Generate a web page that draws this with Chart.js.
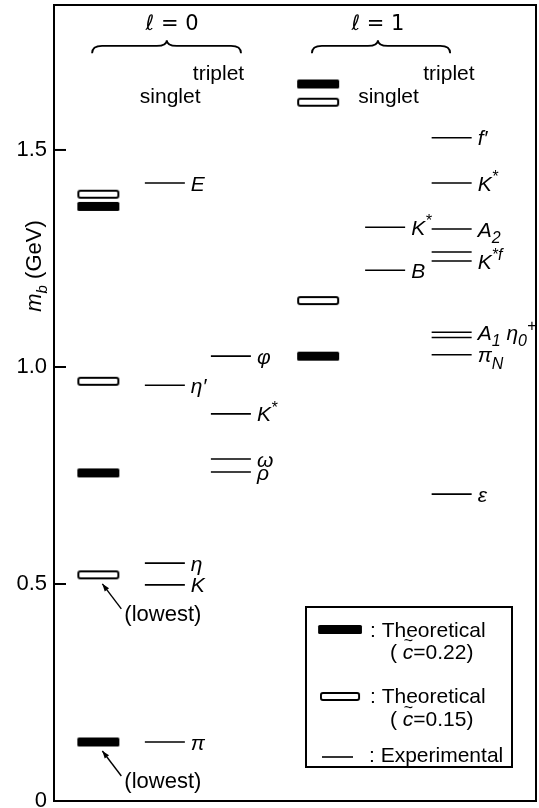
<!DOCTYPE html>
<html>
<head>
<meta charset="utf-8">
<script src="https://cdn.jsdelivr.net/npm/chart.js@4.4.1/dist/chart.umd.min.js"></script>
<style>
  html, body { margin: 0; padding: 0; background: #fff; }
  canvas { display: block; }
</style>
</head>
<body>
<canvas id="chart" width="539" height="808"></canvas>
<script>
// meson masses in GeV
const l0TheoryC022 = [0.136, 0.756, 1.370];
const l0TheoryC015 = [0.521, 0.967, 1.398];
const l1TheoryC022 = [1.025, 1.652];
const l1TheoryC015 = [1.153, 1.610];

const l0ExpNearNames = ['π', 'K', 'η', 'η′', 'E'];
const l0ExpNear = [0.136, 0.498, 0.548, 0.958, 1.424];
const l0ExpFarNames = ['ρ', 'ω', 'K^*', 'φ'];
const l0ExpFar = [0.758, 0.788, 0.892, 1.025];
const l1ExpNearNames = ['B', 'K^*'];
const l1ExpNear = [1.223, 1.322];
const l1ExpFarNames = ['ε', 'π_N', '', 'A_1 η_0^+', 'K^{*f}', '', 'A_2', 'K^*', 'f′'];
const l1ExpFar = [0.707, 1.028, 1.068, 1.080, 1.244, 1.265, 1.318, 1.424, 1.528];

const yTicks = [0, 0.5, 1.0, 1.5];
const yTickLabels = ['0', '0.5', '1.0', '1.5'];

// where the columns sit on the hidden 0..100 x scale
const col = { l0Th: 9.2, l0A: 23.0, l0B: 36.7, l1Th: 54.8, l1A: 68.7, l1B: 82.5 };
const FONT = '"Liberation Sans", "DejaVu Sans", sans-serif';

function barImage(filled) {
  const c = document.createElement('canvas');
  c.width = 44; c.height = 11;
  const g = c.getContext('2d');
  g.fillStyle = '#000';
  g.strokeStyle = '#000';
  g.lineWidth = 2;
  g.beginPath();
  if (filled) {
    g.roundRect(1, 1, 42, 9, 1.5);
    g.fill();
  } else {
    g.roundRect(2, 2, 40, 7, 2);
    g.stroke();
  }
  return c;
}

function pts(x, ys) {
  return ys.map(y => ({ x: x, y: y }));
}

// tiny markup: ^x / ^{..} superscript, _x / _{..} subscript
function drawRich(ctx, text, x, y, size, italic) {
  const parts = [];
  let i = 0;
  while (i < text.length) {
    const ch = text[i];
    if (ch === '^' || ch === '_') {
      const mode = ch === '^' ? 'sup' : 'sub';
      i++;
      let t;
      if (text[i] === '{') {
        const e = text.indexOf('}', i);
        t = text.slice(i + 1, e);
        i = e + 1;
      } else {
        t = text[i];
        i++;
      }
      parts.push({ t: t, mode: mode });
    } else {
      parts.push({ t: ch, mode: 'base' });
      i++;
    }
  }
  ctx.save();
  ctx.textBaseline = 'alphabetic';
  ctx.textAlign = 'left';
  ctx.fillStyle = '#000';
  const base = y + size * 0.36;
  let cx = x;
  for (const p of parts) {
    const s = p.mode === 'base' ? size : Math.round(size * 0.75);
    const dy = p.mode === 'sub' ? size * 0.3 : p.mode === 'sup' ? -size * 0.4 : 0;
    ctx.font = (italic ? 'italic ' : '') + s + 'px ' + FONT;
    ctx.fillText(p.t, cx, base + dy);
    cx += ctx.measureText(p.t).width;
  }
  ctx.restore();
  return cx;
}

function brace(ctx, x1, x2, xm, yEnd, yLine, yTip) {
  const r = 10;
  ctx.beginPath();
  ctx.moveTo(x1, yEnd);
  ctx.quadraticCurveTo(x1, yLine, x1 + r, yLine);
  ctx.lineTo(xm - r, yLine);
  ctx.quadraticCurveTo(xm, yLine, xm, yTip);
  ctx.quadraticCurveTo(xm, yLine, xm + r, yLine);
  ctx.lineTo(x2 - r, yLine);
  ctx.quadraticCurveTo(x2, yLine, x2, yEnd);
  ctx.stroke();
}

const filledBar = barImage(true);
const openBar = barImage(false);

const expStyle = {
  pointStyle: 'line',
  pointRadius: 20,
  borderColor: '#000',
  borderWidth: 1.6,
  showLine: false
};

// names next to the experimental lines
const labelPlugin = {
  id: 'mesonLabels',
  afterDatasetsDraw(chart) {
    const ctx = chart.ctx;
    chart.data.datasets.forEach((ds, i) => {
      if (!ds.names) return;
      chart.getDatasetMeta(i).data.forEach((pt, j) => {
        const name = ds.names[j];
        if (name) drawRich(ctx, name, pt.x + ds.pointRadius + 6, pt.y, 21, true);
      });
    });
  }
};

// frame, inward ticks, axis title, braces, notes and the boxed key
const decorPlugin = {
  id: 'decor',
  afterDraw(chart) {
    const ctx = chart.ctx;
    const a = chart.chartArea;
    const xs = chart.scales.x;
    const ys = chart.scales.y;
    const px = v => xs.getPixelForValue(v);
    const py = v => ys.getPixelForValue(v);
    ctx.save();
    ctx.strokeStyle = '#000';
    ctx.fillStyle = '#000';

    ctx.lineWidth = 2;
    ctx.strokeRect(a.left, a.top, a.right - a.left, a.bottom - a.top);
    yTicks.forEach(v => {
      ctx.beginPath();
      ctx.moveTo(a.left, py(v));
      ctx.lineTo(a.left + 12, py(v));
      ctx.stroke();
    });

    // y title: m_b (GeV)
    ctx.save();
    ctx.translate(41, 266);
    ctx.rotate(-Math.PI / 2);
    ctx.textBaseline = 'alphabetic';
    ctx.font = 'italic 22px ' + FONT;
    let w = ctx.measureText('m').width;
    ctx.font = 'italic 15px ' + FONT;
    w += ctx.measureText('b').width;
    ctx.font = '22px ' + FONT;
    w += ctx.measureText(' (GeV)').width;
    let tx = -w / 2;
    ctx.font = 'italic 22px ' + FONT;
    ctx.fillText('m', tx, 0);
    tx += ctx.measureText('m').width;
    ctx.font = 'italic 15px ' + FONT;
    ctx.fillText('b', tx, 6);
    tx += ctx.measureText('b').width;
    ctx.font = '22px ' + FONT;
    ctx.fillText(' (GeV)', tx, 0);
    ctx.restore();

    // braces with l = 0 / l = 1
    ctx.lineWidth = 1.8;
    brace(ctx, px(7.9), px(38.8), px(23.4), py(1.723), py(1.740), py(1.753));
    brace(ctx, px(53.5), px(82.2), px(67.2), py(1.723), py(1.740), py(1.753));
    ctx.textBaseline = 'middle';
    ctx.textAlign = 'center';
    ctx.font = '21px "DejaVu Sans", sans-serif';
    ctx.fillText('ℓ = 0', px(24.5), py(1.788));
    ctx.fillText('ℓ = 1', px(67.2), py(1.788));

    ctx.textAlign = 'left';
    ctx.font = '21px ' + FONT;
    ctx.fillText('triplet', px(28.8), py(1.675));
    ctx.fillText('singlet', px(17.8), py(1.622));
    ctx.fillText('triplet', px(76.6), py(1.675));
    ctx.fillText('singlet', px(63.1), py(1.622));

    // (lowest) arrows under the lowest l = 0 bars
    [l0TheoryC015[0], l0TheoryC022[0]].forEach(m => {
      const tipX = px(col.l0Th) + 4;
      const tipY = py(m) + 9;
      const tailX = tipX + 19;
      const tailY = tipY + 25;
      ctx.lineWidth = 1.4;
      ctx.beginPath();
      ctx.moveTo(tailX, tailY);
      ctx.lineTo(tipX, tipY);
      ctx.stroke();
      const ang = Math.atan2(tipY - tailY, tipX - tailX);
      ctx.beginPath();
      ctx.moveTo(tipX, tipY);
      ctx.lineTo(tipX - 8 * Math.cos(ang - 0.35), tipY - 8 * Math.sin(ang - 0.35));
      ctx.lineTo(tipX - 8 * Math.cos(ang + 0.35), tipY - 8 * Math.sin(ang + 0.35));
      ctx.closePath();
      ctx.fill();
      ctx.font = '22px ' + FONT;
      ctx.textBaseline = 'middle';
      ctx.fillText('(lowest)', tailX + 3, tailY + 6);
    });

    // key box
    const bx = a.right - 230;
    const by = a.bottom - 194;
    ctx.lineWidth = 2;
    ctx.strokeRect(bx, by, 206, 160);
    ctx.drawImage(filledBar, bx + 11, by + 17, 46, 11);
    ctx.drawImage(openBar, bx + 13, by + 84, 42, 11);
    ctx.lineWidth = 1.6;
    ctx.beginPath();
    ctx.moveTo(bx + 16, by + 150);
    ctx.lineTo(bx + 47, by + 150);
    ctx.stroke();
    ctx.font = '21px ' + FONT;
    ctx.textBaseline = 'middle';
    ctx.fillText(': Theoretical', bx + 64, by + 24);
    ctx.fillText(': Theoretical', bx + 64, by + 90);
    ctx.fillText(': Experimental', bx + 63, by + 149);
    [['0.22', by + 46], ['0.15', by + 113]].forEach(([c, yy]) => {
      let x0 = bx + 84;
      ctx.font = '21px ' + FONT;
      ctx.fillText('( ', x0, yy);
      x0 += ctx.measureText('( ').width;
      ctx.font = 'italic 21px ' + FONT;
      ctx.fillText('c', x0, yy);
      const cw = ctx.measureText('c').width;
      ctx.font = '16px ' + FONT;
      ctx.fillText('~', x0 + 1, yy - 11);
      x0 += cw;
      ctx.font = '21px ' + FONT;
      ctx.fillText('=' + c + ')', x0, yy);
    });
    ctx.restore();
  }
};

new Chart(document.getElementById('chart').getContext('2d'), {
  type: 'scatter',
  data: {
    datasets: [
      {
        label: 'Theoretical (c̃=0.22)',
        data: [...pts(col.l0Th, l0TheoryC022), ...pts(col.l1Th, l1TheoryC022)],
        pointStyle: filledBar,
        pointRadius: 5
      },
      {
        label: 'Theoretical (c̃=0.15)',
        data: [...pts(col.l0Th, l0TheoryC015), ...pts(col.l1Th, l1TheoryC015)],
        pointStyle: openBar,
        pointRadius: 5
      },
      Object.assign({ label: 'Experimental', data: pts(col.l0A, l0ExpNear), names: l0ExpNearNames }, expStyle),
      Object.assign({ label: 'Experimental', data: pts(col.l0B, l0ExpFar), names: l0ExpFarNames }, expStyle),
      Object.assign({ label: 'Experimental', data: pts(col.l1A, l1ExpNear), names: l1ExpNearNames }, expStyle),
      Object.assign({ label: 'Experimental', data: pts(col.l1B, l1ExpFar), names: l1ExpFarNames }, expStyle)
    ]
  },
  options: {
    responsive: false,
    animation: false,
    layout: { autoPadding: false, padding: { top: 5, right: 3, bottom: 7, left: 0 } },
    plugins: {
      legend: { display: false },
      tooltip: { enabled: false }
    },
    scales: {
      x: { type: 'linear', min: 0, max: 100, display: false },
      y: {
        type: 'linear',
        min: 0,
        max: 1.834,
        border: { display: false },
        grid: { display: false, drawTicks: false },
        afterBuildTicks: scale => {
          scale.ticks = yTicks.map(v => ({ value: v }));
        },
        afterFit: scale => {
          scale.width = 54;
          scale.paddingTop = 0;
          scale.paddingBottom = 0;
        },
        ticks: {
          padding: 7,
          color: '#000',
          font: { family: FONT, size: 22 },
          callback: v => yTickLabels[yTicks.indexOf(v)]
        }
      }
    }
  },
  plugins: [labelPlugin, decorPlugin]
});
</script>
</body>
</html>
